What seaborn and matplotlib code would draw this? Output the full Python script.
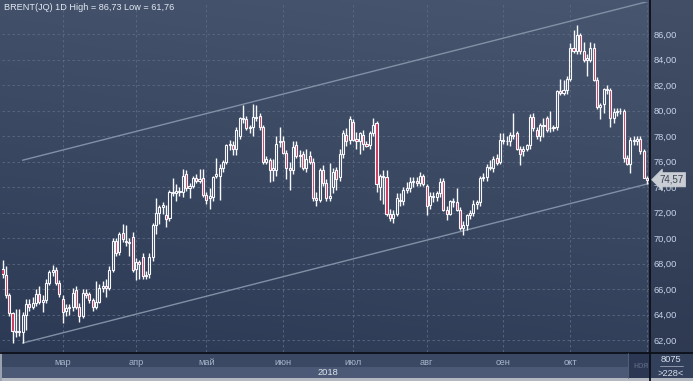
import numpy as np
import pandas as pd
import matplotlib
matplotlib.use("Agg")
import matplotlib.pyplot as plt
import seaborn as sns
from matplotlib.patches import Rectangle
from matplotlib.lines import Line2D
from matplotlib.colors import LinearSegmentedColormap

# daily candles (5 Feb - 1 Nov 2018)
first_day = "2018-02-05"
opens = [67.6, 67.1, 65.5, 64.1, 62.7, 62.6, 62.6, 64.0, 64.8, 64.6,
         64.9, 65.6, 65.0, 65.1, 66.5, 67.3, 67.5, 66.5, 65.2, 64.3,
         64.5, 64.6, 65.9, 64.6, 63.9, 65.7, 65.6, 65.1, 64.6, 65.0,
         66.1, 66.2, 66.1, 67.5, 69.8, 68.9, 70.4, 69.8, 69.7, 70.1,
         67.6, 68.1, 68.5, 67.0, 67.2, 68.5, 71.0, 72.0, 72.4, 71.8,
         71.6, 73.6, 73.5, 73.7, 73.6, 75.0, 73.9, 74.1, 74.7, 74.5,
         74.7, 73.4, 73.1, 73.2, 74.9, 74.9, 75.5, 76.0, 77.3, 77.3,
         77.0, 78.0, 79.4, 79.3, 78.6, 78.7, 79.5, 79.6, 78.7, 76.0,
         76.1, 75.3, 75.3, 77.5, 77.6, 76.7, 75.5, 75.3, 77.3, 76.4,
         76.6, 75.5, 76.4, 76.0, 73.1, 73.0, 75.3, 74.3, 73.1, 74.0,
         75.3, 74.8, 76.6, 78.1, 77.7, 79.1, 77.8, 77.6, 78.1, 77.4,
         77.3, 78.2, 79.0, 74.0, 74.9, 74.8, 71.9, 71.6, 71.9, 73.0,
         72.9, 73.8, 73.9, 74.4, 74.5, 74.3, 74.9, 74.1, 72.6, 73.3,
         73.2, 73.5, 74.5, 72.2, 71.9, 72.9, 72.8, 72.2, 70.8, 71.0,
         71.8, 72.0, 72.7, 72.8, 74.7, 74.8, 75.6, 75.5, 76.3, 76.0,
         77.7, 77.6, 77.6, 78.1, 78.2, 77.0, 76.8, 77.0, 77.3, 79.5,
         78.5, 78.0, 78.9, 79.4, 78.6, 78.6, 78.7, 81.5, 81.4, 81.6,
         82.5, 84.9, 84.7, 85.9, 84.7, 84.0, 84.0, 84.9, 82.4, 80.3,
         80.5, 81.7, 81.6, 79.4, 79.9, 80.0, 80.0, 76.3, 75.8, 77.7,
         77.6, 77.8, 76.8, 74.7]
highs = [68.3, 67.8, 65.7, 64.2, 64.4, 64.4, 64.2, 65.2, 65.2, 65.4,
         66.0, 66.2, 65.5, 66.8, 67.5, 67.9, 67.7, 66.7, 65.5, 64.8,
         64.8, 66.1, 66.2, 64.9, 66.0, 66.0, 65.8, 65.3, 66.6, 66.4,
         66.6, 66.8, 67.8, 70.0, 70.0, 70.5, 71.1, 71.0, 70.0, 70.5,
         68.4, 68.3, 68.8, 67.4, 68.8, 71.2, 73.1, 72.6, 72.8, 72.6,
         73.8, 74.7, 74.2, 74.0, 75.4, 75.3, 74.3, 74.9, 75.0, 75.4,
         75.4, 73.6, 73.9, 74.9, 76.3, 75.8, 76.1, 77.4, 77.7, 77.6,
         78.7, 79.5, 80.4, 79.6, 78.9, 80.5, 80.4, 79.8, 78.9, 76.4,
         76.3, 76.2, 78.0, 78.7, 78.0, 76.9, 76.0, 77.6, 77.6, 76.9,
         76.8, 77.0, 76.8, 76.3, 73.6, 75.5, 75.7, 74.6, 75.9, 75.5,
         75.6, 77.0, 78.5, 78.6, 79.6, 79.3, 78.3, 78.3, 78.5, 77.6,
         78.4, 79.4, 79.2, 75.0, 75.3, 75.3, 72.3, 72.2, 73.5, 73.5,
         74.0, 74.4, 74.8, 74.8, 74.8, 75.2, 75.0, 74.2, 73.6, 73.6,
         73.7, 74.7, 74.7, 72.5, 73.0, 73.1, 73.9, 72.4, 71.3, 71.9,
         72.2, 73.0, 73.0, 74.9, 75.1, 75.8, 76.1, 76.4, 76.6, 78.2,
         78.2, 78.0, 78.3, 79.8, 78.4, 77.2, 77.2, 77.4, 79.7, 79.8,
         78.7, 79.0, 79.4, 79.6, 80.0, 78.9, 81.6, 82.5, 82.4, 82.7,
         85.3, 86.3, 86.73, 86.1, 85.4, 84.4, 85.4, 85.3, 82.6, 80.6,
         81.8, 82.0, 81.8, 80.2, 80.2, 80.2, 80.1, 76.5, 77.9, 78.0,
         78.0, 78.0, 77.0, 74.9]
lows = [66.9, 65.3, 63.9, 61.76, 62.2, 62.3, 61.76, 62.8, 64.3, 64.4,
        64.7, 64.8, 64.2, 64.9, 66.3, 67.0, 66.3, 65.4, 63.3, 63.9,
        64.0, 64.3, 64.4, 63.4, 63.7, 65.3, 64.9, 64.3, 64.4, 64.9,
        65.8, 65.4, 65.9, 67.3, 68.6, 68.7, 69.7, 69.4, 68.6, 67.3,
        66.7, 66.8, 66.8, 66.8, 66.9, 68.2, 70.3, 71.1, 71.9, 70.9,
        71.3, 73.3, 72.9, 73.3, 73.2, 73.7, 73.1, 73.9, 74.3, 74.3,
        73.2, 72.7, 72.3, 72.9, 74.7, 73.0, 75.2, 75.8, 76.9, 76.5,
        76.5, 77.8, 79.0, 78.5, 78.2, 78.0, 79.2, 78.5, 75.8, 75.8,
        74.4, 74.5, 74.9, 77.1, 76.6, 74.6, 73.8, 75.0, 76.3, 75.6,
        75.3, 75.2, 75.8, 72.9, 72.5, 72.8, 74.1, 72.9, 72.9, 73.5,
        73.8, 74.5, 76.3, 77.2, 77.4, 77.6, 77.0, 76.6, 76.9, 77.1,
        77.0, 78.0, 73.6, 73.0, 72.7, 71.7, 71.3, 71.2, 71.7, 72.5,
        72.6, 73.5, 73.6, 74.0, 74.1, 74.1, 74.1, 71.8, 72.3, 72.8,
        72.9, 73.2, 72.1, 71.4, 71.8, 72.4, 72.1, 70.6, 70.2, 70.6,
        71.5, 71.7, 72.3, 72.5, 74.5, 74.5, 75.3, 75.2, 75.7, 75.8,
        77.4, 77.3, 77.2, 77.8, 76.9, 75.7, 76.4, 76.8, 77.0, 78.4,
        77.8, 77.6, 77.9, 78.3, 78.3, 78.4, 78.5, 81.2, 81.2, 81.3,
        82.3, 84.5, 84.4, 84.4, 83.8, 82.7, 83.8, 82.3, 80.1, 79.3,
        79.8, 81.3, 78.7, 79.0, 79.6, 79.7, 76.0, 75.7, 75.1, 77.3,
        77.3, 76.6, 74.7, 74.2]
closes = [67.2, 65.5, 64.1, 62.7, 62.6, 62.7, 64.0, 64.8, 64.6, 64.9,
          65.6, 65.0, 65.1, 66.5, 67.3, 67.5, 66.5, 65.6, 64.2, 64.5,
          64.6, 65.7, 64.6, 63.9, 65.7, 65.5, 65.1, 64.6, 65.0, 66.1,
          66.2, 66.1, 67.5, 69.8, 68.8, 70.3, 69.9, 69.7, 69.6, 67.5,
          68.1, 68.0, 67.0, 67.1, 68.5, 71.0, 72.0, 72.4, 72.6, 71.5,
          73.6, 73.5, 73.7, 73.6, 74.9, 73.9, 74.1, 74.7, 74.5, 74.6,
          73.4, 73.0, 73.3, 74.8, 75.0, 75.5, 76.0, 77.3, 77.4, 77.0,
          78.5, 79.4, 79.3, 78.6, 78.7, 79.5, 79.4, 78.7, 76.0, 76.2,
          75.3, 75.5, 77.4, 77.6, 76.7, 75.5, 75.3, 77.1, 76.4, 76.5,
          75.5, 76.2, 76.0, 73.1, 73.0, 75.3, 74.3, 73.1, 73.3, 75.2,
          74.6, 76.6, 78.2, 77.6, 79.3, 77.7, 77.6, 78.2, 77.4, 77.2,
          78.2, 78.9, 74.2, 74.9, 74.8, 71.9, 71.6, 71.9, 73.1, 72.9,
          73.8, 73.9, 74.4, 74.5, 74.3, 74.9, 74.2, 72.5, 73.3, 73.2,
          73.5, 74.4, 72.2, 71.9, 72.9, 72.8, 72.2, 70.8, 71.0, 71.8,
          72.0, 72.7, 72.8, 74.7, 74.8, 75.6, 75.5, 76.2, 75.9, 77.7,
          77.6, 77.6, 78.1, 78.0, 77.0, 76.6, 77.0, 77.3, 79.5, 78.6,
          78.0, 78.9, 78.8, 78.5, 78.6, 78.7, 81.5, 81.4, 81.6, 82.5,
          84.9, 84.7, 85.9, 84.7, 84.0, 84.1, 84.9, 82.4, 80.3, 80.4,
          81.7, 81.6, 79.4, 79.9, 80.0, 80.0, 76.3, 75.8, 77.7, 77.6,
          77.8, 76.8, 74.7, 74.57]

month_labels = ["мар", "апр", "май", "июн", "июл", "авг", "сен", "окт"]
nov_label = "ноя"
year_label = "2018"
price_ticks = [62, 64, 66, 68, 70, 72, 74, 76, 78, 80, 82, 84, 86]
channel_x = [6, 194]
channel_low = [61.76, 74.3]
channel_high = [76.1, 88.6]
last_price = 74.57
title = "BRENT(JQ) 1D High = 86,73 Low = 61,76"
corner_top, corner_bottom = "8075", ">228<"

dates = pd.bdate_range(first_day, periods=len(closes))
df = pd.DataFrame({"date": dates, "open": opens, "high": highs,
                   "low": lows, "close": closes})
df["n"] = np.arange(len(df))
month_start = df.groupby(df["date"].dt.to_period("M"))["n"].min().iloc[1:]

W, H = 693, 381
sns.set_theme(style="dark")
plt.rcParams["font.family"] = ["Liberation Sans", "DejaVu Sans"]
fs = 6.7

fig = plt.figure(figsize=(W / 100, H / 100), dpi=100)


def box(x0, y0, x1, y1, color, z=-5):
    fig.add_artist(Rectangle((x0 / W, 1 - y1 / H), (x1 - x0) / W, (y1 - y0) / H,
                             transform=fig.transFigure, facecolor=color,
                             edgecolor="none", zorder=z))


def hline(y, x0, x1, color, lw):
    fig.add_artist(Line2D([x0 / W, x1 / W], [1 - y / H, 1 - y / H],
                          transform=fig.transFigure, color=color, lw=lw, zorder=6))


def vline(x, y0, y1, color, lw):
    fig.add_artist(Line2D([x / W, x / W], [1 - y0 / H, 1 - y1 / H],
                          transform=fig.transFigure, color=color, lw=lw, zorder=6))


# background gradient
bg = fig.add_axes([0, 0, 1, 1], zorder=-10)
bg.axis("off")
yy, xx = np.mgrid[0:1:200j, 0:1:200j]
cmap = LinearSegmentedColormap.from_list("bg", ["#2b3853", "#48566f"])
bg.imshow(0.8 * yy + 0.2 * xx, cmap=cmap, origin="lower", extent=[0, 1, 0, 1],
          aspect="auto", vmin=0, vmax=1)

box(649, 0, 693, 352, (0, 0, 0, 0.08))
box(0, 352, 649, 367, "#3a4864")
box(0, 367, 628, 378, "#4b5976")
box(628, 353, 649, 378, "#2c3853")
box(649, 352, 693, 381, "#33405c")
box(0, 378, 693, 381, "#b3b8c1")
box(0, 352, 2, 381, "#9aa2b0")

ax = fig.add_axes([2 / W, 29 / H, 647 / W, 350 / H])
ax.set_facecolor("none")
for s in ax.spines.values():
    s.set_visible(False)

# channel
sns.lineplot(x=channel_x, y=channel_low, ax=ax, color="#8290a6", linewidth=1, zorder=2)
sns.lineplot(x=channel_x, y=channel_high, ax=ax, color="#8290a6", linewidth=1, zorder=2)

# candles
up = df["close"] >= df["open"]
body_lo = df[["open", "close"]].min(axis=1)
body_hi = df[["open", "close"]].max(axis=1)
ax.vlines(df["n"], df["low"], body_lo, color="#f6f8fb", lw=1.0, zorder=3)
ax.vlines(df["n"], body_hi, df["high"], color="#f6f8fb", lw=1.0, zorder=3)
ax.bar(df["n"], body_hi - body_lo, bottom=body_lo, width=0.62,
       color=np.where(up, "none", "#c8375a"), edgecolor="#f6f8fb",
       linewidth=0.8, zorder=4)

ax.set_xlim(-0.15, 193.6)
ax.set_ylim(61.06, 88.51)
ax.set_xticks(month_start.values)
ax.set_xticklabels(month_labels + [""])
ax.set_yticks(price_ticks)
ax.set_yticklabels([f"{v:.2f}".replace(".", ",") for v in price_ticks])
ax.yaxis.tick_right()
ax.tick_params(axis="y", length=0, pad=3, labelsize=fs, labelcolor="#c6d3e8")
ax.tick_params(axis="x", length=0, pad=4.5, labelsize=fs, labelcolor="#a9b5ca")
ax.grid(True, color="#5b6983", lw=0.6, linestyle=(0, (3, 3)))
ax.set_axisbelow(True)
ax.set_xlabel("")
ax.set_ylabel("")

# last price tag
ax.text(1.016, last_price, f"{last_price:.2f}".replace(".", ","),
        transform=ax.get_yaxis_transform(), ha="left", va="center",
        fontsize=fs + 0.3, color="#3b4252", zorder=8, clip_on=False,
        bbox=dict(boxstyle="larrow,pad=0.22", fc="#c9cdd4", ec="#c9cdd4", lw=0.5))

# partly hidden november label
nov = ax.text(month_start.values[-1] - 1.8, -0.027, nov_label,
              transform=ax.get_xaxis_transform(), ha="center", va="top",
              fontsize=fs, color="#5f6b82", clip_on=True)
nov.set_clip_path(Rectangle((628 / W, 0), 20 / W, 1, transform=fig.transFigure))

fig.text(4 / W, 1 - 8 / H, title, ha="left", va="center", fontsize=6.6, color="#e3e9f3")
fig.text(328 / W, 1 - 372.5 / H, year_label, ha="center", va="center",
         fontsize=fs, color="#dfe5ef")
fig.text(671 / W, 1 - 360 / H, corner_top, ha="center", va="center",
         fontsize=fs, color="#d6deea")
fig.text(671 / W, 1 - 373 / H, corner_bottom, ha="center", va="center",
         fontsize=fs, color="#d6deea")
hline(366, 660, 683, "#9aa3b4", 0.6)

hline(352.5, 0, 693, "#0b0f18", 1.3)
vline(649.5, 0, 381, "#0b0f18", 1.3)
vline(628, 353, 378, "#5a6680", 0.6)

fig.savefig("out.png", dpi=100)
